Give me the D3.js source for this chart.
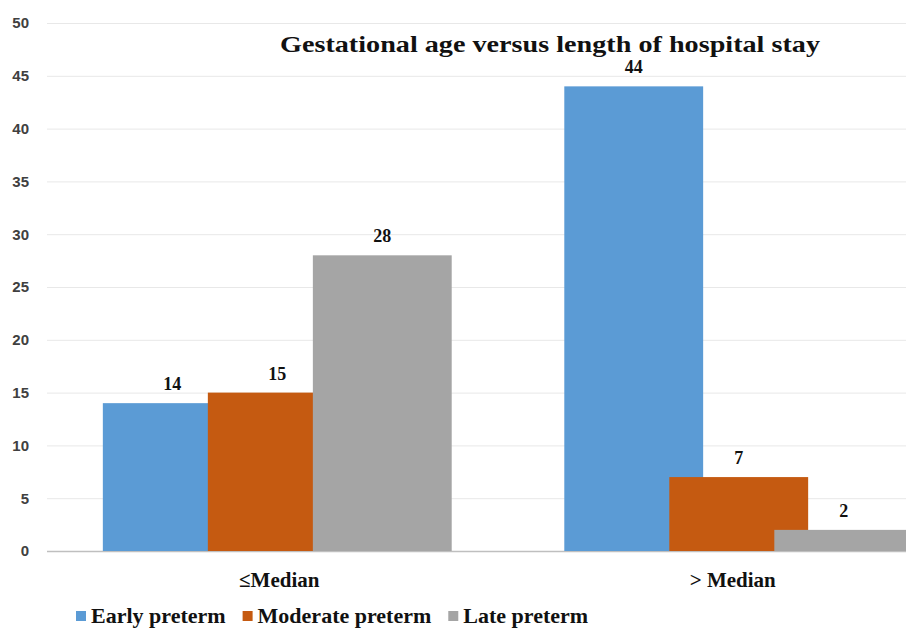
<!doctype html>
<html lang="en">
  <head>
    <meta charset="utf-8">
    <title>Gestational age versus length of hospital stay</title>
    <style>
      body { margin: 0; background: #fff; }
      svg { display: block; }
      .serif { font-family: "Liberation Serif", "Times New Roman", serif; font-weight: bold; fill: #111; }
    </style>
  </head>
  <body>
    <div id="chart"></div>

    <script src="https://d3js.org/d3.v7.min.js"></script>
    <script>
      // Data
      var categories = ["\u2264Median", "> Median"];
      var series = ["Early preterm", "Moderate preterm", "Late preterm"];
      var colors = ["#5b9bd5", "#c55a11", "#a5a5a5"];
      var earlyPreterm = [14, 44];
      var moderatePreterm = [15, 7];
      var latePreterm = [28, 2];
      var yTicks = [0, 5, 10, 15, 20, 25, 30, 35, 40, 45, 50];

      var values = [earlyPreterm, moderatePreterm, latePreterm];

      // Set params
      var width = 906, height = 630;
      var plotLeft = 47, plotRight = 906;

      var svg = d3.select("#chart")
        .append("svg")
        .attr("width", width)
        .attr("height", height);

      svg.append("rect")
        .attr("width", width)
        .attr("height", height)
        .attr("fill", "#fff");

      // Y scale
      var y = d3.scaleLinear()
        .domain([0, 50])
        .range([551, 23]);

      // X scales (the chart is cropped on the right, so range runs past the edge)
      var x0 = d3.scaleBand()
        .domain(categories)
        .range([plotLeft, 969])
        .paddingInner(0.244)
        .paddingOuter(0.121);

      // bars overlap inside a group
      var barWidth = x0.bandwidth() * 0.398;
      var x1 = d3.scalePoint()
        .domain(series)
        .range([0, x0.bandwidth() - barWidth]);

      // Y axis with gridlines
      var yAxis = svg.append("g")
        .attr("transform", "translate(" + plotLeft + ",0)")
        .call(d3.axisLeft(y)
          .tickValues(yTicks)
          .tickSize(-(plotRight - plotLeft))
          .tickPadding(18));

      yAxis.select(".domain").remove();
      yAxis.selectAll(".tick line")
        .attr("stroke", function(d) { return d === 0 ? "#bfbfbf" : "#e8e8e8"; })
        .attr("stroke-width", function(d) { return d === 0 ? 1.5 : 1; });
      yAxis.selectAll(".tick text")
        .attr("font-family", "'Liberation Sans', Arial, sans-serif")
        .attr("font-weight", "bold")
        .attr("font-size", "15px")
        .attr("fill", "#404040");

      // Bars
      series.forEach(function(s, i) {
        var g = svg.append("g");

        g.selectAll("rect")
          .data(categories)
          .enter()
          .append("rect")
          .attr("x", function(c) { return x0(c) + x1(s); })
          .attr("y", function(c, j) { return y(values[i][j]); })
          .attr("width", barWidth)
          .attr("height", function(c, j) { return y(0) - y(values[i][j]); })
          .attr("fill", colors[i]);

        g.selectAll("text")
          .data(categories)
          .enter()
          .append("text")
          .attr("class", "serif")
          .attr("x", function(c) { return x0(c) + x1(s) + barWidth / 2; })
          .attr("y", function(c, j) { return y(values[i][j]) - 13; })
          .attr("text-anchor", "middle")
          .attr("font-size", "18px")
          .text(function(c, j) { return values[i][j]; });
      });

      // Category labels
      svg.selectAll(".cat")
        .data(categories)
        .enter()
        .append("text")
        .attr("class", "serif cat")
        .attr("x", function(c, i) { return x0(c) + x0.bandwidth() / 2 + (i === 0 ? 2 : -6); })
        .attr("y", 587)
        .attr("text-anchor", "middle")
        .attr("font-size", "21px")
        .text(function(c) { return c; });

      // Title
      svg.append("text")
        .attr("class", "serif")
        .attr("x", 550)
        .attr("y", 52)
        .attr("text-anchor", "middle")
        .attr("font-size", "23px")
        .attr("textLength", 540)
        .attr("lengthAdjust", "spacingAndGlyphs")
        .text("Gestational age versus length of hospital stay");

      // Legend
      var legend = svg.append("g").attr("transform", "translate(76,623)");
      var lx = 0;
      series.forEach(function(s, i) {
        legend.append("rect")
          .attr("x", lx)
          .attr("y", -12)
          .attr("width", 10)
          .attr("height", 10)
          .attr("fill", colors[i]);
        var t = legend.append("text")
          .attr("class", "serif")
          .attr("x", lx + 15)
          .attr("y", 0)
          .attr("font-size", "22px")
          .text(s);
        lx += 15 + t.node().getComputedTextLength() + 17;
      });
    </script>
  </body>
</html>
